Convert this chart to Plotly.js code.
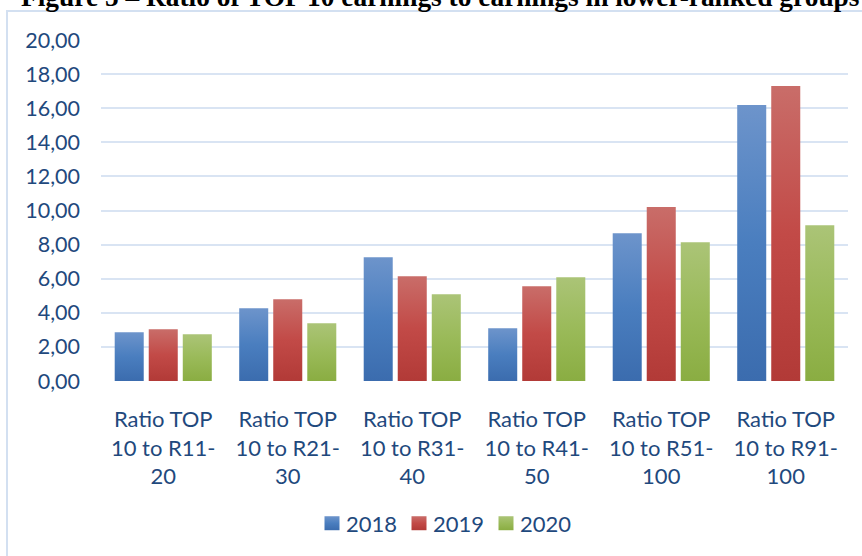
<!DOCTYPE html>
<html>
<head>
<meta charset="utf-8">
<script src="https://cdn.plot.ly/plotly-3.0.1.min.js"></script>
<style>html,body{margin:0;padding:0;background:#fff;}#chart{width:862px;height:556px;}</style>
</head>
<body>
<div id="chart"></div>
<script>
const categories = [
  "Ratio TOP<br>10 to R11-<br>20",
  "Ratio TOP<br>10 to R21-<br>30",
  "Ratio TOP<br>10 to R31-<br>40",
  "Ratio TOP<br>10 to R41-<br>50",
  "Ratio TOP<br>10 to R51-<br>100",
  "Ratio TOP<br>10 to R91-<br>100"
];
const seriesNames = ["2018", "2019", "2020"];
const values2018 = [2.86, 4.27, 7.26, 3.09, 8.67, 16.19];
const values2019 = [3.04, 4.80, 6.15, 5.56, 10.20, 17.30];
const values2020 = [2.74, 3.39, 5.09, 6.09, 8.14, 9.14];
const yTickVals = [0, 2, 4, 6, 8, 10, 12, 14, 16, 18, 20];
const yTickText = ["0,00", "2,00", "4,00", "6,00", "8,00", "10,00", "12,00", "14,00", "16,00", "18,00", "20,00"];
const titleText = "Figure 5 – Ratio of TOP 10 earnings to earnings in lower-ranked groups";

const baseColors = ["#4a7ebf", "#c24a47", "#9aba59"];
const gradStops = [
  ["#6d94cb", "#3b6cae"],
  ["#c96d69", "#b23a37"],
  ["#abc477", "#8aad42"]
];
const allValues = [values2018, values2019, values2020];
const textColor = "#1f497d";

const traces = seriesNames.map((name, i) => ({
  type: "bar",
  name: name,
  x: categories,
  y: allValues[i],
  marker: { color: baseColors[i], line: { width: 0 } },
  hoverinfo: "x+y+name"
}));

const W = 862, H = 556;
const layout = {
  width: W, height: H,
  margin: { l: 101, r: 14, t: 40, b: 175.3 },
  paper_bgcolor: "#ffffff",
  plot_bgcolor: "#ffffff",
  barmode: "group",
  bargap: 0.18,
  bargroupgap: 0.147,
  title: {
    text: titleText,
    font: { family: "Liberation Serif", size: 27.4, weight: "bold", color: "#000000" },
    x: 21 / W, xanchor: "left", xref: "container",
    y: 1 - 6 / H, yanchor: "bottom", yref: "container"
  },
  xaxis: {
    type: "category",
    showgrid: false,
    zeroline: false,
    showline: false,
    ticks: "",
    tickfont: { family: "Lato", size: 22, color: textColor },
    ticklabelstandoff: 23,
    fixedrange: true
  },
  yaxis: {
    range: [0, 20],
    tickmode: "array",
    tickvals: yTickVals,
    ticktext: yTickText,
    showgrid: true,
    gridcolor: "#d9e4f3",
    gridwidth: 2,
    zeroline: false,
    showline: false,
    ticks: "",
    tickfont: { family: "Lato", size: 21.5, color: textColor },
    ticklabelstandoff: 20,
    fixedrange: true
  },
  showlegend: true,
  legend: {
    orientation: "h",
    x: (326 - 101 - 20) / 747, xanchor: "left",
    y: (380.7 - 523) / 340.7, yanchor: "middle",
    font: { family: "Lato", size: 22, color: textColor },
    bgcolor: "rgba(0,0,0,0)",
    entrywidth: 42, entrywidthmode: "pixels",
    itemclick: false, itemdoubleclick: false,
    traceorder: "normal"
  },
  shapes: [{
    type: "rect", xref: "paper", yref: "paper",
    x0: (7 - 101) / 747, x1: (870 - 101) / 747,
    y0: (380.7 - 570) / 340.7, y1: (380.7 - 11) / 340.7,
    line: { color: "#d3e0f1", width: 2 },
    fillcolor: "rgba(0,0,0,0)",
    layer: "below"
  }]
};

Plotly.newPlot("chart", traces, layout, { displayModeBar: false }).then(gd => {
  const svg = gd.querySelector(".main-svg");
  const defs = svg.querySelector("defs");
  const NS = "http://www.w3.org/2000/svg";
  gradStops.forEach((st, i) => {
    const g = document.createElementNS(NS, "linearGradient");
    g.setAttribute("id", "bargrad" + i);
    g.setAttribute("x1", "0"); g.setAttribute("y1", "0");
    g.setAttribute("x2", "0"); g.setAttribute("y2", "1");
    [[0, st[0]], [0.5, baseColors[i]], [1, st[1]]].forEach(([o, c]) => {
      const s = document.createElementNS(NS, "stop");
      s.setAttribute("offset", o);
      s.setAttribute("stop-color", c);
      g.appendChild(s);
    });
    defs.appendChild(g);
  });
  gd.querySelectorAll(".barlayer .trace").forEach((tr, i) => {
    tr.querySelectorAll("path").forEach(p => { p.style.fill = "url(#bargrad" + i + ")"; });
  });
  gd.querySelectorAll(".legend .traces").forEach((tr, i) => {
    tr.querySelectorAll(".legendpoints path").forEach(p => {
      p.setAttribute("d", "M13.5,7H-1.5V-7H13.5Z");
      p.style.fill = "url(#bargrad" + i + ")";
    });
  });
  gd.querySelectorAll(".legend [clip-path]").forEach(e => e.removeAttribute("clip-path"));
});
</script>
</body>
</html>
